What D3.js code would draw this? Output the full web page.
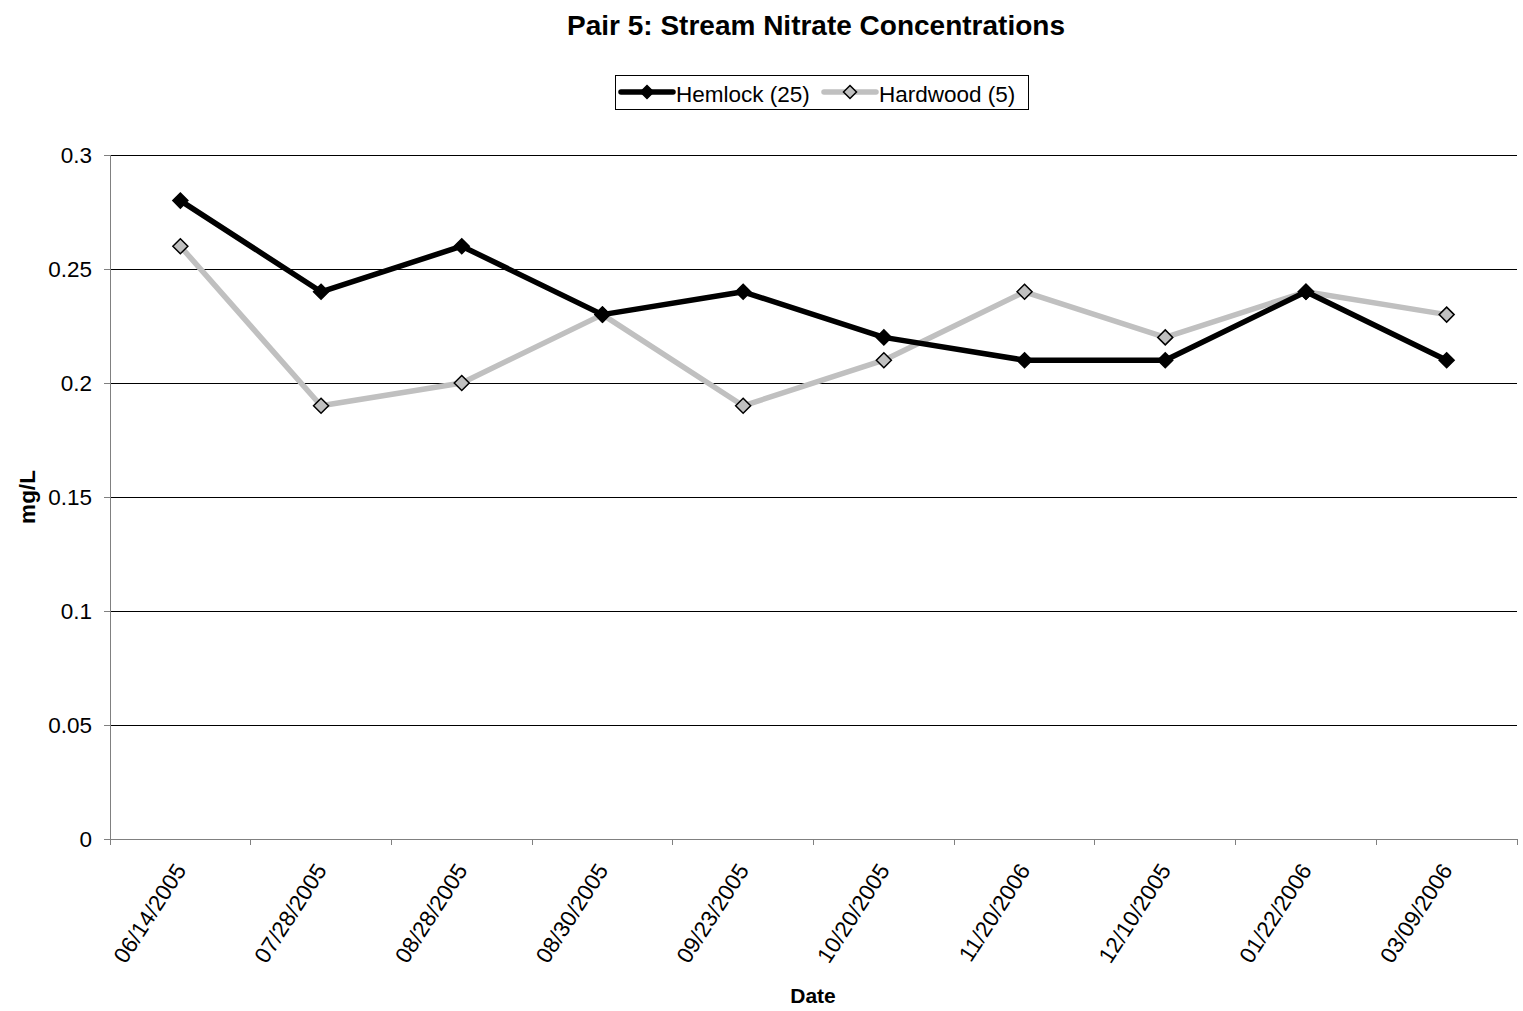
<!DOCTYPE html>
<html>
<head>
<meta charset="utf-8">
<script src="https://cdn.jsdelivr.net/npm/d3@7"></script>
<style>
  body { margin: 0; background: #fff; }
  svg { font-family: "Liberation Sans", Arial, sans-serif; }
</style>
</head>
<body>
<svg id="chart" width="1523" height="1011"></svg>
<script>
// Sampling dates and nitrate concentrations (mg/L)
const dates = ["06/14/2005", "07/28/2005", "08/28/2005", "08/30/2005", "09/23/2005",
               "10/20/2005", "11/20/2006", "12/10/2005", "01/22/2006", "03/09/2006"];
const hemlock = [0.28, 0.24, 0.26, 0.23, 0.24, 0.22, 0.21, 0.21, 0.24, 0.21];
const hardwood = [0.26, 0.19, 0.20, 0.23, 0.19, 0.21, 0.24, 0.22, 0.24, 0.23];
const yTicks = [0, 0.05, 0.1, 0.15, 0.2, 0.25, 0.3];

(function () {
  const svg = d3.select("#chart");
  const plotLeft = 110, plotRight = 1517, plotTop = 155, plotBottom = 839;
  const labelSize = 22.5;

  const x = d3.scaleBand().domain(dates).range([plotLeft, plotRight]);
  const y = d3.scaleLinear().domain([0, 0.3]).range([plotBottom, plotTop]);

  // Title
  svg.append("text").attr("x", 816).attr("y", 35).attr("text-anchor", "middle")
    .attr("font-size", 28).attr("font-weight", "bold").text("Pair 5: Stream Nitrate Concentrations");

  // Horizontal gridlines
  svg.append("g").selectAll("line").data(yTicks.filter(d => d > 0)).join("line")
    .attr("x1", plotLeft).attr("x2", plotRight).attr("y1", d => y(d)).attr("y2", d => y(d))
    .attr("stroke", "#000").attr("stroke-width", 1).attr("shape-rendering", "crispEdges");

  // Y axis
  const yAxis = svg.append("g").attr("transform", `translate(${plotLeft},0)`)
    .call(d3.axisLeft(y).tickValues(yTicks).tickFormat(d => String(d)).tickSize(6).tickPadding(12));
  yAxis.select(".domain").attr("stroke", "#808080").attr("shape-rendering", "crispEdges");
  yAxis.selectAll(".tick line").attr("stroke", "#808080").attr("shape-rendering", "crispEdges");
  yAxis.selectAll("text").attr("font-size", labelSize).attr("fill", "#000")
    .attr("font-family", "Liberation Sans, Arial, sans-serif");

  // X axis with ticks at category boundaries
  const xg = svg.append("g");
  xg.append("line").attr("x1", plotLeft).attr("x2", plotRight).attr("y1", plotBottom).attr("y2", plotBottom)
    .attr("stroke", "#808080").attr("shape-rendering", "crispEdges");
  const bounds = dates.map(d => x(d)).concat([plotRight]);
  xg.selectAll("line.tk").data(bounds).join("line").attr("class", "tk")
    .attr("x1", d => d).attr("x2", d => d).attr("y1", plotBottom).attr("y2", plotBottom + 6)
    .attr("stroke", "#808080").attr("shape-rendering", "crispEdges");
  xg.selectAll("text").data(dates).join("text")
    .attr("transform", d => `translate(${x(d) + x.bandwidth() / 2},${plotBottom + 27}) rotate(-57)`)
    .attr("text-anchor", "end").attr("dy", "0.35em").attr("font-size", labelSize).text(d => d);

  // Axis titles
  svg.append("text").attr("x", 813).attr("y", 1003).attr("text-anchor", "middle")
    .attr("font-size", 21).attr("font-weight", "bold").text("Date");
  svg.append("text").attr("transform", `translate(35,${(plotTop + plotBottom) / 2}) rotate(-90)`)
    .attr("text-anchor", "middle").attr("font-size", labelSize).attr("font-weight", "bold").text("mg/L");

  const cx = d => x(d) + x.bandwidth() / 2;

  function drawSeries(values, color, markerFill, width) {
    const line = d3.line().x((d, i) => cx(dates[i])).y(d => y(d));
    svg.append("path").datum(values).attr("d", line).attr("fill", "none")
      .attr("stroke", color).attr("stroke-width", width).attr("stroke-linejoin", "round");
    svg.append("g").selectAll("path").data(values).join("path")
      .attr("transform", (d, i) => `translate(${cx(dates[i])},${y(d)})`)
      .attr("d", "M0,-7.5L7.5,0L0,7.5L-7.5,0Z")
      .attr("fill", markerFill).attr("stroke", "#000").attr("stroke-width", 1.5);
  }
  drawSeries(hardwood, "#c0c0c0", "#c0c0c0", 5.5);
  drawSeries(hemlock, "#000", "#000", 5.5);

  // Legend
  const lg = svg.append("g");
  lg.append("rect").attr("x", 615.5).attr("y", 75.5).attr("width", 413).attr("height", 34)
    .attr("fill", "#fff").attr("stroke", "#000").attr("stroke-width", 1);
  const series = [
    { name: "Hemlock (25)", color: "#000", fill: "#000", x0: 621 },
    { name: "Hardwood (5)", color: "#c0c0c0", fill: "#c0c0c0", x0: 824 }
  ];
  series.forEach(s => {
    lg.append("line").attr("x1", s.x0).attr("x2", s.x0 + 52).attr("y1", 92).attr("y2", 92)
      .attr("stroke", s.color).attr("stroke-width", 5.5).attr("stroke-linecap", "round");
    lg.append("path").attr("transform", `translate(${s.x0 + 26},92)`)
      .attr("d", "M0,-6.5L6.5,0L0,6.5L-6.5,0Z").attr("fill", s.fill).attr("stroke", "#000").attr("stroke-width", 1.5);
    lg.append("text").attr("x", s.x0 + 55).attr("y", 102)
      .attr("font-size", labelSize).text(s.name);
  });
})();
</script>
</body>
</html>
